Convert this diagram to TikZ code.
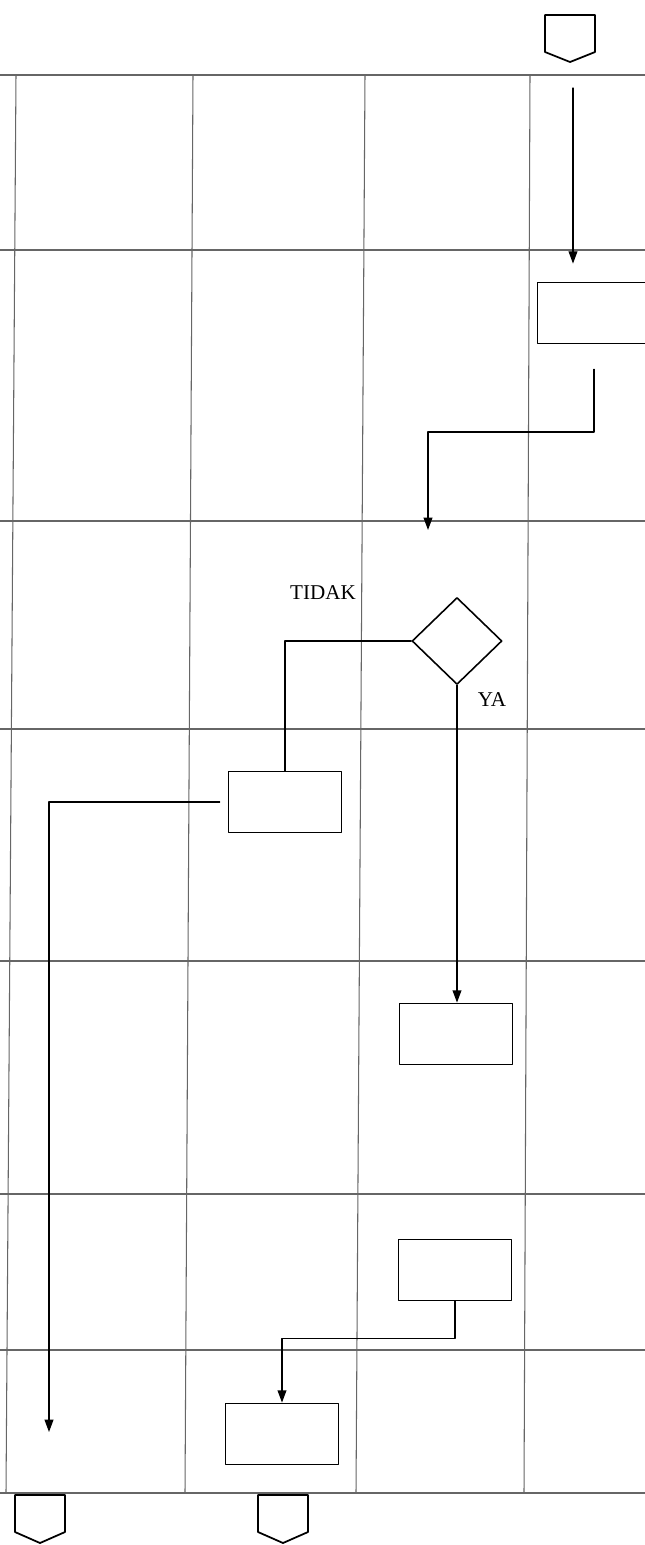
\documentclass[tikz,border=0pt]{standalone}
\usepackage{fontspec}
\setmainfont{Liberation Serif}
\usetikzlibrary{shapes.geometric,arrows.meta}
\begin{document}
\begin{tikzpicture}[x=.02cm,y=-.02cm,line cap=round,line join=round]
  \tikzset{lane/.style={line width=.6pt,draw=black!60},
    proc/.style={draw,line width=1pt,minimum width=2.26cm,minimum height=1.22cm,inner sep=0pt},
    choice/.style={diamond,draw,line width=.9pt,minimum width=1.8cm,minimum height=1.74cm,inner sep=0pt},
    flow/.style={line width=.75pt,-{Triangle[length=7pt,width=5pt]}},
    link/.style={line width=.75pt},
    offpage/.style={line width=1pt}}
  \useasboundingbox (0,0) rectangle (645,1545);
  \clip (0,0) rectangle (645,1545);
  % swimlane grid
  \foreach \yy in {75,250,521,729,961,1194,1350,1493} \draw[lane] (0,\yy)--(645,\yy);
  \draw[lane] (16,75)--(6,1493); \draw[lane] (193,75)--(185,1493);
  \draw[lane] (365,75)--(356,1493); \draw[lane] (530,75)--(524,1493);
  % off-page connectors
  \draw[offpage] (545,15)--(595,15)--(595,52)--(570,62)--(545,52)--cycle;
  \draw[offpage] (15,1495)--(65,1495)--(65,1532)--(40,1543)--(15,1532)--cycle;
  \draw[offpage] (258,1495)--(308,1495)--(308,1532)--(283,1543)--(258,1532)--cycle;
  \coordinate (start) at (573,88);
  % steps
  \node[proc] (s1) at (594,313) {};
  \node[choice] (q1) at (457,641) {};
  \node[proc] (s2) at (285,802) {};
  \node[proc] (s3) at (456,1034) {};
  \node[proc] (s4) at (455,1270) {};
  \node[proc] (s5) at (282,1434) {};
  \coordinate (j1) at (428,530); \coordinate (e1) at (49,1432);
  \node at (323,593) {\fontsize{12}{14}\selectfont TIDAK};
  \node at (492,700) {\fontsize{12}{14}\selectfont YA};
  % connectors
  \draw[flow,shorten >=.36cm] (start)--(start|-s1.north);
  \draw[flow,shorten <=.5cm] (s1.south)--(s1.south|-0,432)-|(j1);
  \draw[link] (q1.west)-|(s2.north);
  \draw[flow,shorten <=.16cm] (s2.west)-|(e1);
  \draw[flow] (q1.south)--(q1.south|-s3.north);
  \draw[flow] (s4.south)--++(0,37)-|(s5.north);
\end{tikzpicture}
\end{document}
